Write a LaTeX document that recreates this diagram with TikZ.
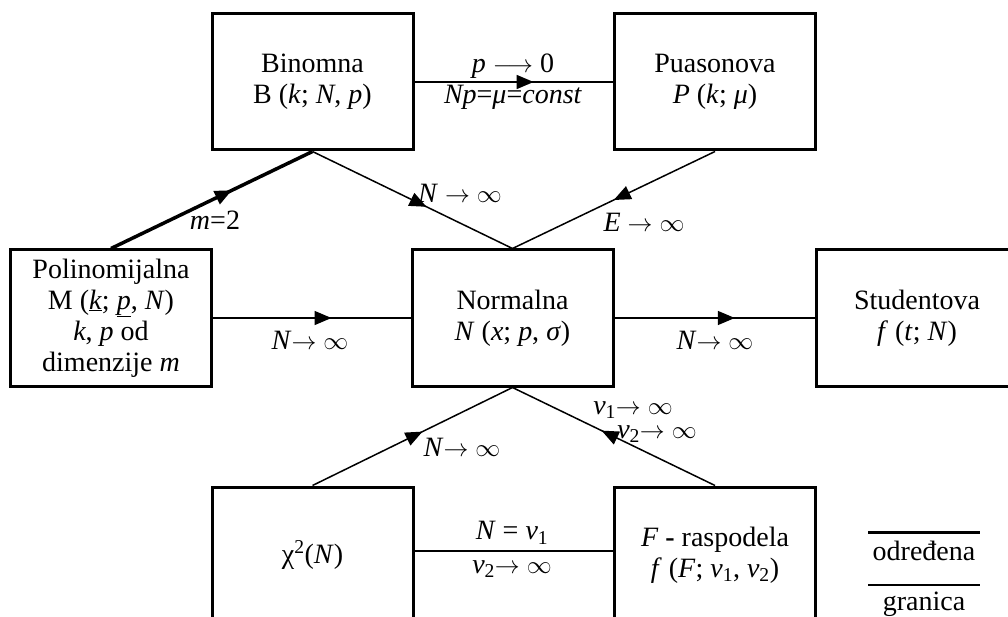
\documentclass[tikz,border=0pt]{standalone}
\usepackage{fontspec}
\setmainfont{Liberation Serif}
\usetikzlibrary{arrows.meta,decorations.markings}
\tikzset{
 box/.style={draw, line width=3pt, minimum width=201pt, minimum height=136pt, inner sep=0pt, align=center, font=\fontsize{28}{31}\selectfont},
 lbl/.style={inner sep=0pt, font=\fontsize{28}{31}\selectfont, align=center},
 conn/.style={line width=1.5pt},
 thickconn/.style={line width=3.5pt},
 midarrow/.style={postaction={decorate}, decoration={markings, mark=at position #1 with {\arrow{Triangle[length=17pt,width=14pt]}}}},
}
\begin{document}
\begin{tikzpicture}[x=1pt,y=-1pt]
\useasboundingbox (0,0) rectangle (1008,617);
\node[box] (bin) at (312.5,82) {Binomna\\B (\textit{k}; \textit{N}, \textit{p})};
\node[box] (pua) at (715,82) {Puasonova\\\textit{P} (\textit{k}; \textit{μ})};
\node[box] (poli) at (111,318) {Polinomijalna\\M (\underline{\textit{k}}; \underline{\textit{p}}, \textit{N})\\\textit{k}, \textit{p} od\\dimenzije \textit{m}};
\node[box] (norm) at (512.5,318) {Normalna\\\textit{N} (\textit{x}; \textit{p}, \textit{σ})};
\node[box] (stud) at (917,318) {Studentova\\\textit{f} (\textit{t}; \textit{N})};
\node[box] (chi) at (312.5,555) {χ\textsuperscript{2}(\textit{N})};
\node[box] (fr) at (715,555) {\textit{F} \textbf{-} raspodela\\\textit{f} (\textit{F}; \textit{v}\textsubscript{1}, \textit{v}\textsubscript{2})};
\draw[conn, midarrow=0.6] (bin.east) -- (pua.west);
\draw[conn, midarrow=0.6] (poli.east) -- (norm.west);
\draw[conn, midarrow=0.6] (norm.east) -- (stud.west);
\draw[thickconn, midarrow=0.6] (poli.north) -- (bin.south);
\draw[conn, midarrow=0.57] (bin.south) -- (norm.north);
\draw[conn, midarrow=0.5] (pua.south) -- (norm.north);
\draw[conn, midarrow=0.55] (chi.north) -- (norm.south);
\draw[conn, midarrow=0.56] (fr.north) -- (norm.south);
\draw[conn] ([yshift=4pt]chi.east) -- ([yshift=4pt]fr.west);
\node[lbl] (l1) at (513,66) {\textit{p} $\longrightarrow$ 0};
\node[lbl] (l2) at (513,97) {\textit{Np}=\textit{μ}=\textit{const}};
\node[lbl] (l3) at (460,193) {\textit{N} $\rightarrow$ $\infty$};
\node[lbl] (l4) at (644,222) {\textit{E} $\rightarrow$ $\infty$};
\node[lbl] (l5) at (215,220) {\textit{m}=2};
\node[lbl] (l6) at (310,340) {\textit{N}$\rightarrow$ $\infty$};
\node[lbl] (l7) at (715,340) {\textit{N}$\rightarrow$ $\infty$};
\node[lbl] (l8) at (462,447) {\textit{N}$\rightarrow$ $\infty$};
\node[lbl] (l9) at (633,410) {\textit{v}\textsubscript{1}$\rightarrow$ $\infty$};
\node[lbl] (l10) at (657,434) {\textit{v}\textsubscript{2}$\rightarrow$ $\infty$};
\node[lbl] (l11) at (512,533) {\textit{N} = \textit{v}\textsubscript{1}};
\node[lbl] (l12) at (512,569) {\textit{v}\textsubscript{2}$\rightarrow$ $\infty$};
\coordinate (la) at (868,532);
\coordinate (lb) at (980,532);
\coordinate (lc) at (868,585);
\coordinate (le) at (980,585);
\draw[line width=3pt] (la) -- (lb);
\draw[conn] (lc) -- (le);
\node[lbl] (ld) at (924,551) {određena};
\node[lbl] (lg) at (924,604) {granica};
\end{tikzpicture}
\end{document}
